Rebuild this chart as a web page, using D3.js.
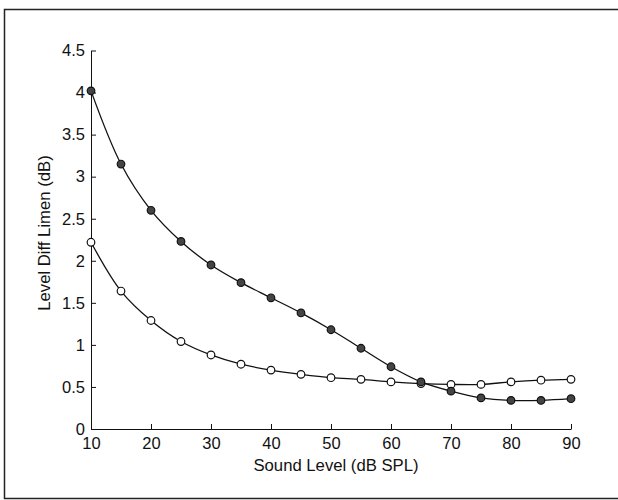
<!DOCTYPE html>
<html>
<head>
<meta charset="utf-8">
<script src="https://cdn.jsdelivr.net/npm/d3@7"></script>
<style>
  body { margin: 0; background: #fff; }
  svg { display: block; font-family: "Liberation Sans", Arial, sans-serif; }
</style>
</head>
<body>
<svg id="chart" width="618" height="500"></svg>
<script>
// data
var levels = [10, 15, 20, 25, 30, 35, 40, 45, 50, 55, 60, 65, 70, 75, 80, 85, 90];
var filledLimen = [4.02, 3.15, 2.60, 2.23, 1.95, 1.74, 1.56, 1.38, 1.18, 0.96, 0.74, 0.56, 0.45, 0.37, 0.34, 0.34, 0.36];
var openLimen = [2.22, 1.64, 1.29, 1.04, 0.88, 0.77, 0.70, 0.65, 0.61, 0.59, 0.56, 0.54, 0.53, 0.53, 0.56, 0.58, 0.59];
var xTicks = [10, 20, 30, 40, 50, 60, 70, 80, 90];
var yTicks = [0, 0.5, 1, 1.5, 2, 2.5, 3, 3.5, 4, 4.5];

var svg = d3.select("#chart");
var font = "'Liberation Sans', Arial, sans-serif";

// frame round the figure (no right edge in the scan)
svg.append("path")
  .attr("d", "M618,9.5 L4.5,9.5 L4.5,498.5 L618,498.5")
  .attr("fill", "none")
  .attr("stroke", "#222")
  .attr("stroke-width", 1.5);

var x = d3.scaleLinear().domain([10, 90]).range([91, 571]);
var y = d3.scaleLinear().domain([0, 4.5]).range([429, 50.5]);

// axes, ticks pointing inward
var xAxis = svg.append("g")
  .attr("transform", "translate(0," + y(0) + ")")
  .call(d3.axisBottom(x).tickValues(xTicks).tickSize(-5).tickPadding(8).tickSizeOuter(0));
var yAxis = svg.append("g")
  .attr("transform", "translate(" + x(10) + ",0)")
  .call(d3.axisLeft(y).tickValues(yTicks).tickSize(-5).tickPadding(6).tickSizeOuter(0)
    .tickFormat(function(d) { return String(d); }));

[xAxis, yAxis].forEach(function(g) {
  g.attr("font-family", font).attr("font-size", 16.5);
  g.select(".domain").attr("stroke", "#111").attr("stroke-width", 1);
  g.selectAll(".tick line").attr("stroke", "#111");
  g.selectAll(".tick text").attr("fill", "#111");
});

// axis titles
svg.append("text")
  .attr("x", 336).attr("y", 471)
  .attr("text-anchor", "middle")
  .attr("font-size", 16.7).attr("fill", "#111")
  .text("Sound Level (dB SPL)");
svg.append("text")
  .attr("transform", "translate(50," + y(2.33) + ") rotate(-90)")
  .attr("text-anchor", "middle")
  .attr("font-size", 16.7).attr("fill", "#111")
  .text("Level Diff Limen (dB)");

var line = d3.line()
  .x(function(d) { return x(d[0]); })
  .y(function(d) { return y(d[1]); })
  .curve(d3.curveCatmullRom);

function drawSeries(vals, fill) {
  var pts = levels.map(function(l, i) { return [l, vals[i]]; });
  svg.append("path")
    .datum(pts)
    .attr("d", line)
    .attr("fill", "none")
    .attr("stroke", "#111")
    .attr("stroke-width", 1.3);
  svg.append("g").selectAll("circle")
    .data(pts)
    .join("circle")
    .attr("cx", function(d) { return x(d[0]); })
    .attr("cy", function(d) { return y(d[1]); })
    .attr("r", 3.8)
    .attr("fill", fill)
    .attr("stroke", "#111")
    .attr("stroke-width", 1.2);
}

drawSeries(openLimen, "#fff");
drawSeries(filledLimen, "#444");
</script>
</body>
</html>
